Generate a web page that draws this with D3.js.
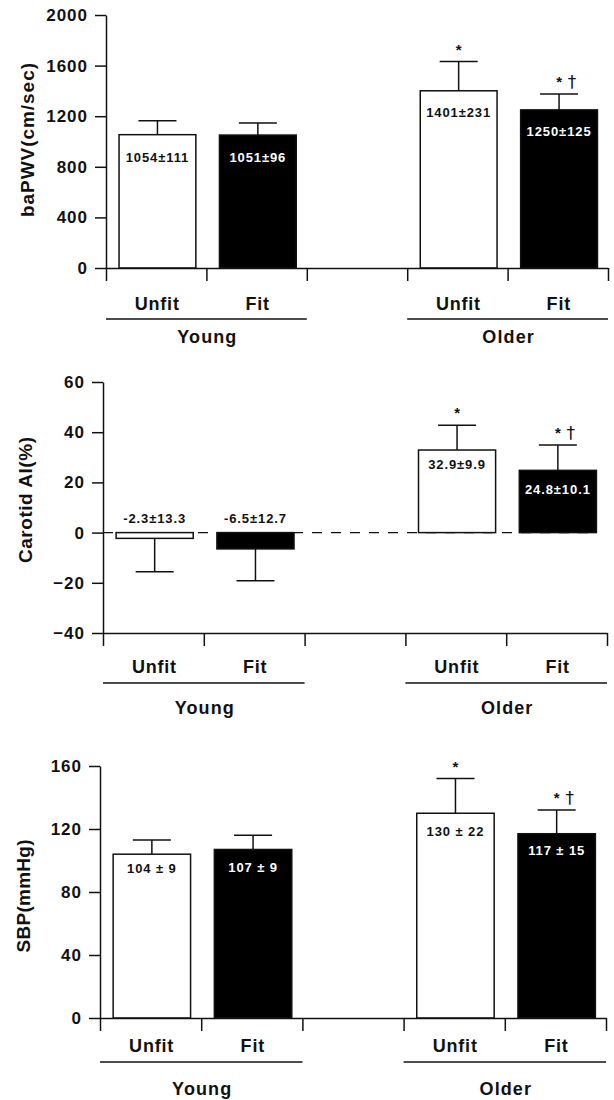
<!DOCTYPE html>
<html><head><meta charset="utf-8">
<script src="https://cdn.jsdelivr.net/npm/d3@7"></script>
<style>
body{margin:0;background:#fff}
svg{display:block}
text{font-family:"Liberation Sans",Arial,Helvetica,sans-serif;font-weight:bold;fill:#111}
</style>
</head><body>
<svg id="chart" width="614" height="1100"></svg>
<script>
// ---------- data ----------
const categories = ["Young Unfit", "Young Fit", "gap", "Older Unfit", "Older Fit"];
const barCategories = ["Young Unfit", "Young Fit", "Older Unfit", "Older Fit"];
const fitnessLabels = ["Unfit", "Fit", "Unfit", "Fit"];
const groupLabels = ["Young", "Older"];
const significance = ["", "", "*", "*†"];

const pwvMean = [1054, 1051, 1401, 1250];
const pwvSD = [111, 96, 231, 125];
const pwvTicks = [0, 400, 800, 1200, 1600, 2000];

const aiMean = [-2.3, -6.5, 32.9, 24.8];
const aiSD = [13.3, 12.7, 9.9, 10.1];
const aiTicks = [-40, -20, 0, 20, 40, 60];

const sbpMean = [104, 107, 130, 117];
const sbpSD = [9, 9, 22, 15];
const sbpTicks = [0, 40, 80, 120, 160];

const yTitles = ["baPWV(cm/sec)", "Carotid AI(%)", "SBP(mmHg)"];

// ---------- layout (not data) ----------
const panels = [
  { mean: pwvMean, sd: pwvSD, ticks: pwvTicks, title: yTitles[0], domain: [0, 2000],
    x0: 106, x1: 608, yRange: [268, 15], fmt: (m, s) => m + "±" + s,
    labelDy: [27, 27, 26, 26], catDy: 42, lineDy: 51, grpDy: 75,
    titleX: 27, titleY: 140, titleLen: 154, zero: false },
  { mean: aiMean, sd: aiSD, ticks: aiTicks, title: yTitles[1], domain: [-40, 60],
    x0: 103, x1: 607, yRange: [633, 382], fmt: (m, s) => m.toFixed(1) + "±" + s.toFixed(1),
    labelDy: [-10, -10, 19, 24], catDy: 40, lineDy: 50, grpDy: 81,
    titleX: 25, titleY: 500, titleLen: 126, zero: true },
  { mean: sbpMean, sd: sbpSD, ticks: sbpTicks, title: yTitles[2], domain: [0, 160],
    x0: 100, x1: 606, yRange: [1018, 766], fmt: (m, s) => m + " ± " + s,
    labelDy: [19, 23, 23, 21], catDy: 34, lineDy: 44, grpDy: 77,
    titleX: 23, titleY: 896, titleLen: 113, zero: false }
];

const svg = d3.select("#chart");
const ink = "#111";

function drawPanel(cfg) {
  const x = d3.scaleBand().domain(categories).range([cfg.x0, cfg.x1]).padding(0);
  const y = d3.scaleLinear().domain(cfg.domain).range(cfg.yRange);
  const g = svg.append("g");
  const step = x.bandwidth();
  const bw = step * 0.765;
  const off = step * 0.13;
  const axisY = y(cfg.domain[0]);

  if (cfg.zero) {
    g.append("line")
      .attr("x1", cfg.x0).attr("x2", x("Older Fit") + off + bw)
      .attr("y1", y(0)).attr("y2", y(0))
      .attr("stroke", ink).attr("stroke-width", 1.3)
      .attr("stroke-dasharray", "10,9");
  }

  const bars = barCategories.map((c, i) => ({ c, i, m: cfg.mean[i], s: cfg.sd[i], fit: i % 2 === 1 }));
  const tip = d => y(d.m < 0 ? d.m - d.s : d.m + d.s);
  const cxOf = d => x(d.c) + off + bw / 2;

  // error bars
  const eb = g.selectAll(".eb").data(bars).join("g");
  eb.append("line")
    .attr("x1", cxOf).attr("x2", cxOf)
    .attr("y1", d => y(d.m)).attr("y2", tip)
    .attr("stroke", ink).attr("stroke-width", 1.5);
  eb.append("line")
    .attr("x1", d => cxOf(d) - 19).attr("x2", d => cxOf(d) + 19)
    .attr("y1", tip).attr("y2", tip)
    .attr("stroke", ink).attr("stroke-width", 1.5);

  // bars
  g.selectAll(".bar").data(bars).join("rect")
    .attr("x", d => x(d.c) + off)
    .attr("width", bw)
    .attr("y", d => y(Math.max(0, d.m)))
    .attr("height", d => Math.abs(y(d.m) - y(0)))
    .attr("fill", d => d.fit ? "#000" : "#fff")
    .attr("stroke", ink).attr("stroke-width", 1.5);

  // value labels
  g.selectAll(".val").data(bars).join("text")
    .attr("x", cxOf)
    .attr("y", d => y(Math.max(0, d.m)) + cfg.labelDy[d.i])
    .attr("text-anchor", "middle")
    .style("font-size", "13px").style("letter-spacing", "0.9px")
    .style("fill", d => (d.fit && d.m > 0) ? "#fff" : ink)
    .text(d => cfg.fmt(d.m, d.s));

  // significance marks
  bars.filter(d => significance[d.i]).forEach(d => {
    const cx = cxOf(d);
    const cy = y(d.m + d.s);
    const marks = significance[d.i];
    g.append("text").attr("x", cx).attr("y", cy - 7)
      .attr("text-anchor", "middle").style("font-size", "15px").style("fill", ink).text(marks[0]);
    if (marks.length > 1) {
      g.append("text").attr("x", cx + 13).attr("y", cy - 6)
        .attr("text-anchor", "middle").style("font-size", "17px")
        .style("fill", ink).style("font-family", '"DejaVu Sans",sans-serif').style("font-weight", "normal")
        .text(marks[1]);
    }
  });

  // y axis
  const ya = g.append("g").attr("transform", `translate(${cfg.x0},0)`)
    .call(d3.axisLeft(y).tickValues(cfg.ticks).tickSize(11).tickSizeOuter(0).tickPadding(7)
      .tickFormat(d3.format("d")));
  ya.select(".domain").attr("stroke", ink).attr("stroke-width", 1.5);
  ya.selectAll(".tick line").attr("stroke", ink).attr("stroke-width", 1.5);
  ya.selectAll(".tick text").style("font-size", "17px").style("letter-spacing", "1px")
    .style("font-family", '"Liberation Sans",Arial,sans-serif').style("font-weight", "bold").attr("fill", ink);

  // x axis with ticks at band boundaries
  const xb = d3.scaleLinear().domain([0, categories.length]).range([cfg.x0, cfg.x1]);
  const xa = g.append("g").attr("transform", `translate(0,${axisY})`)
    .call(d3.axisBottom(xb).tickValues(d3.range(categories.length + 1)).tickSize(13).tickSizeOuter(0).tickFormat(""));
  xa.select(".domain").attr("stroke", ink).attr("stroke-width", 1.5);
  xa.selectAll(".tick line").attr("stroke", ink).attr("stroke-width", 1.5);

  // category labels
  g.selectAll(".cat").data(bars).join("text")
    .attr("x", d => x(d.c) + step / 2 + 1)
    .attr("y", axisY + cfg.catDy)
    .attr("text-anchor", "middle")
    .style("font-size", "18px").style("letter-spacing", "0.8px")
    .text(d => fitnessLabels[d.i]);

  // group lines and labels
  groupLabels.forEach((gl, k) => {
    const a = x(barCategories[k * 2]);
    const b = x(barCategories[k * 2 + 1]) + step;
    g.append("line").attr("x1", a).attr("x2", b)
      .attr("y1", axisY + cfg.lineDy).attr("y2", axisY + cfg.lineDy)
      .attr("stroke", ink).attr("stroke-width", 1.3);
    g.append("text").attr("x", (a + b) / 2 + 1).attr("y", axisY + cfg.grpDy)
      .attr("text-anchor", "middle")
      .style("font-size", "18px").style("letter-spacing", "1.1px")
      .text(gl);
  });

  // y title
  g.append("text")
    .attr("transform", `translate(${cfg.titleX},${cfg.titleY}) rotate(-90)`)
    .attr("text-anchor", "middle").attr("dy", "0.36em")
    .attr("textLength", cfg.titleLen).attr("lengthAdjust", "spacing")
    .style("font-size", "19px")
    .text(cfg.title);
}

panels.forEach(drawPanel);
</script>
</body></html>
